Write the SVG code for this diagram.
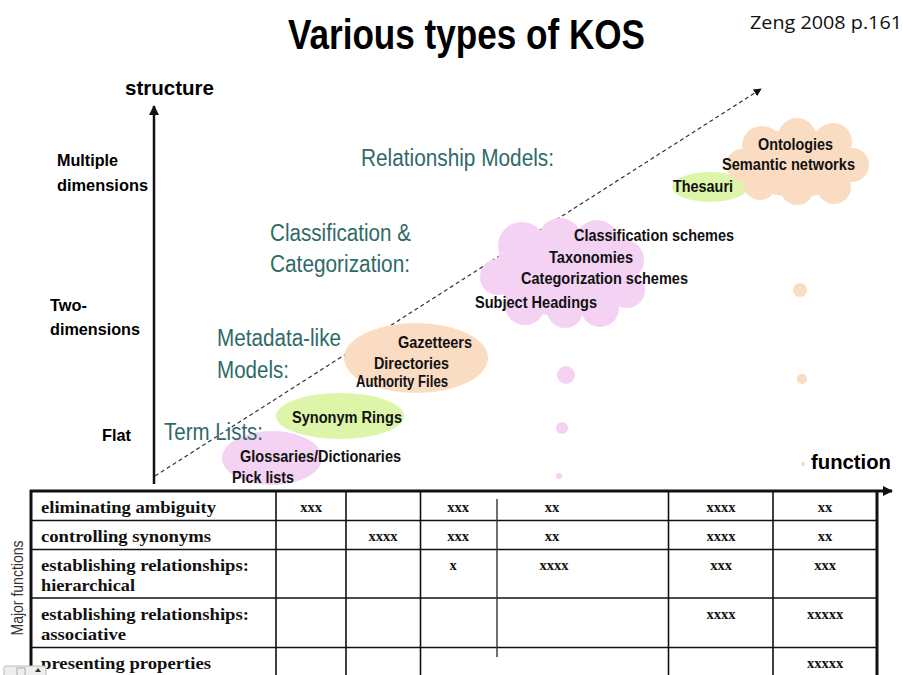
<svg xmlns="http://www.w3.org/2000/svg" width="903" height="675" viewBox="0 0 903 675">
<style>
.title{font-family:"Liberation Sans Narrow","Liberation Sans",sans-serif;font-weight:bold;fill:#000}
.ax{font-family:"Liberation Sans Narrow","Liberation Sans","DejaVu Sans",sans-serif;font-weight:bold;fill:#000}
.teal{font-family:"Liberation Sans Narrow","Liberation Sans",sans-serif;fill:#2f6a68;font-size:23px}
.lbl{font-family:"Liberation Sans Narrow","Liberation Sans",sans-serif;font-weight:bold;fill:#111;font-size:16px}
.tb{font-family:"Liberation Serif","Times New Roman",serif;font-weight:bold;fill:#111;font-size:16px}
.x{font-family:"Liberation Serif","Times New Roman",serif;font-weight:bold;fill:#111;font-size:14.5px;text-anchor:middle}
.pink{fill:#f4d2f4}
.orange{fill:#f9dcc2}
.green{fill:#dcf5a9}
.grid{stroke:#111;stroke-width:1.6;fill:none}
.thick{stroke:#111;stroke-width:3;fill:none}
</style>
<defs>
<marker id="ah" viewBox="0 0 10 10" refX="9" refY="5" markerWidth="8" markerHeight="8" markerUnits="userSpaceOnUse" orient="auto">
<path d="M0,0 L10,5 L0,10 z" fill="#111"/>
</marker>
<marker id="ahb" viewBox="0 0 10 10" refX="9" refY="5" markerWidth="10" markerHeight="10" markerUnits="userSpaceOnUse" orient="auto">
<path d="M0,0 L10,5 L0,10 z" fill="#111"/>
</marker>
</defs>
<rect width="903" height="675" fill="#fff"/>

<text class="title" x="288" y="49" font-size="42" textLength="357" lengthAdjust="spacingAndGlyphs">Various types of KOS</text>
<text x="750" y="29" font-family="'Open Sans','Liberation Sans',sans-serif" font-size="18" fill="#111" textLength="152" lengthAdjust="spacingAndGlyphs">Zeng 2008 p.161</text>

<g id="axes">
<text class="ax" x="125" y="95" font-size="21" textLength="89" lengthAdjust="spacingAndGlyphs">structure</text>
<line x1="154" y1="484" x2="154" y2="106" stroke="#111" stroke-width="2.5" marker-end="url(#ahb)"/>
<text class="ax" x="57" y="166" font-size="17" textLength="61" lengthAdjust="spacingAndGlyphs">Multiple</text>
<text class="ax" x="57" y="191" font-size="17" textLength="91" lengthAdjust="spacingAndGlyphs">dimensions</text>
<text class="ax" x="50" y="311" font-size="17" textLength="37" lengthAdjust="spacingAndGlyphs">Two-</text>
<text class="ax" x="50" y="335" font-size="17" textLength="90" lengthAdjust="spacingAndGlyphs">dimensions</text>
<text class="ax" x="102" y="441" font-size="17" textLength="29" lengthAdjust="spacingAndGlyphs">Flat</text>
<text class="ax" x="811" y="469" font-size="21" textLength="80" lengthAdjust="spacingAndGlyphs">function</text>
</g>

<g id="connectors">
<line x1="155" y1="476" x2="761" y2="89" stroke="#333" stroke-width="1.2" stroke-dasharray="4,3" marker-end="url(#ah)"/>
</g>

<g id="categories">
<text class="teal" x="361" y="166" textLength="193" lengthAdjust="spacingAndGlyphs">Relationship Models:</text>
<text class="teal" x="270" y="241" textLength="141" lengthAdjust="spacingAndGlyphs">Classification &amp;</text>
<text class="teal" x="270" y="272" textLength="140" lengthAdjust="spacingAndGlyphs">Categorization:</text>
<text class="teal" x="217" y="346" textLength="124" lengthAdjust="spacingAndGlyphs">Metadata-like</text>
<text class="teal" x="217" y="378" textLength="72" lengthAdjust="spacingAndGlyphs">Models:</text>
</g>

<g id="glossaries">
<ellipse class="pink" cx="272" cy="458" rx="50" ry="27"/>
<text class="lbl" x="240" y="462" textLength="161" lengthAdjust="spacingAndGlyphs">Glossaries/Dictionaries</text>
<text class="lbl" x="232" y="483" textLength="62" lengthAdjust="spacingAndGlyphs">Pick lists</text>
</g>
<text class="teal" x="164" y="440" textLength="99" lengthAdjust="spacingAndGlyphs">Term Lists:</text>

<g id="synonym-rings">
<ellipse class="green" cx="340" cy="416" rx="64" ry="23"/>
<text class="lbl" x="292" y="423" textLength="110" lengthAdjust="spacingAndGlyphs">Synonym Rings</text>
</g>

<g id="gazetteers">
<ellipse class="orange" cx="416" cy="358" rx="72" ry="35"/>
<text class="lbl" x="398" y="348" textLength="74" lengthAdjust="spacingAndGlyphs">Gazetteers</text>
<text class="lbl" x="374" y="369" textLength="75" lengthAdjust="spacingAndGlyphs">Directories</text>
<text class="lbl" x="356" y="387" font-size="13.5" textLength="92" lengthAdjust="spacingAndGlyphs">Authority Files</text>
</g>

<g id="classification-cloud">
<g class="pink">
<ellipse cx="562" cy="272" rx="68" ry="44"/>
<circle cx="522" cy="246" r="24"/>
<circle cx="560" cy="240" r="22"/>
<circle cx="597" cy="242" r="22"/>
<circle cx="624" cy="260" r="20"/>
<circle cx="627" cy="290" r="18"/>
<circle cx="600" cy="308" r="19"/>
<circle cx="565" cy="310" r="18"/>
<circle cx="525" cy="305" r="20"/>
<circle cx="498" cy="277" r="18"/>
</g>
<text class="lbl" x="574" y="241" textLength="160" lengthAdjust="spacingAndGlyphs">Classification schemes</text>
<text class="lbl" x="549" y="263" textLength="84" lengthAdjust="spacingAndGlyphs">Taxonomies</text>
<text class="lbl" x="521" y="284" textLength="167" lengthAdjust="spacingAndGlyphs">Categorization schemes</text>
<text class="lbl" x="475" y="308" textLength="122" lengthAdjust="spacingAndGlyphs">Subject Headings</text>
<circle class="pink" cx="566" cy="375" r="9"/>
<circle class="pink" cx="562" cy="428" r="6"/>
<circle class="pink" cx="559" cy="476" r="3"/>
</g>

<g id="thesauri">
<ellipse class="green" cx="710" cy="187" rx="38" ry="15"/>
</g>

<g id="ontologies-cloud">
<g class="orange">
<ellipse cx="797" cy="163" rx="60" ry="34"/>
<circle cx="762" cy="146" r="20"/>
<circle cx="797" cy="137" r="19"/>
<circle cx="833" cy="142" r="19"/>
<circle cx="852" cy="165" r="17"/>
<circle cx="834" cy="187" r="17"/>
<circle cx="797" cy="188" r="17"/>
<circle cx="760" cy="183" r="17"/>
<circle cx="742" cy="165" r="16"/>
</g>
<text class="lbl" x="758" y="150" textLength="75" lengthAdjust="spacingAndGlyphs">Ontologies</text>
<text class="lbl" x="722" y="170" textLength="133" lengthAdjust="spacingAndGlyphs">Semantic networks</text>
<circle class="orange" cx="800" cy="290" r="7"/>
<circle class="orange" cx="802" cy="379" r="5"/>
<circle class="orange" cx="803" cy="464" r="2"/>
</g>
<text class="lbl" x="673" y="192" textLength="60" lengthAdjust="spacingAndGlyphs">Thesauri</text>

<g id="table">
<line x1="30" y1="491" x2="892" y2="491" stroke="#111" stroke-width="3" marker-end="url(#ahb)"/>
<line class="thick" x1="31" y1="490" x2="31" y2="675"/>
<line class="thick" x1="877" y1="490" x2="877" y2="675"/>
<line class="grid" x1="31" y1="520.5" x2="877" y2="520.5"/>
<line class="grid" x1="31" y1="549.5" x2="877" y2="549.5"/>
<line class="grid" x1="31" y1="598" x2="877" y2="598"/>
<line class="grid" x1="31" y1="647.5" x2="877" y2="647.5"/>
<line class="grid" x1="276" y1="491" x2="276" y2="675"/>
<line class="grid" x1="346" y1="491" x2="346" y2="675"/>
<line class="grid" x1="420.5" y1="491" x2="420.5" y2="675"/>
<line x1="497" y1="499" x2="497" y2="657" stroke="#333" stroke-width="1.4"/>
<line class="grid" x1="668.5" y1="491" x2="668.5" y2="675"/>
<line class="grid" x1="773" y1="491" x2="773" y2="675"/>

<text class="tb" x="41" y="513" textLength="175" lengthAdjust="spacingAndGlyphs">eliminating ambiguity</text>
<text class="tb" x="41" y="542" textLength="170" lengthAdjust="spacingAndGlyphs">controlling synonyms</text>
<text class="tb" x="41" y="571" textLength="208" lengthAdjust="spacingAndGlyphs">establishing relationships:</text>
<text class="tb" x="41" y="591" textLength="94" lengthAdjust="spacingAndGlyphs">hierarchical</text>
<text class="tb" x="41" y="620" textLength="208" lengthAdjust="spacingAndGlyphs">establishing relationships:</text>
<text class="tb" x="41" y="640" textLength="85" lengthAdjust="spacingAndGlyphs">associative</text>
<text class="tb" x="41" y="669" textLength="170" lengthAdjust="spacingAndGlyphs">presenting properties</text>

<text class="x" x="311" y="512">xxx</text>
<text class="x" x="458" y="512">xxx</text>
<text class="x" x="552" y="512">xx</text>
<text class="x" x="721" y="512">xxxx</text>
<text class="x" x="825" y="512">xx</text>

<text class="x" x="383" y="541">xxxx</text>
<text class="x" x="458" y="541">xxx</text>
<text class="x" x="552" y="541">xx</text>
<text class="x" x="721" y="541">xxxx</text>
<text class="x" x="825" y="541">xx</text>

<text class="x" x="453" y="570">x</text>
<text class="x" x="554" y="570">xxxx</text>
<text class="x" x="721" y="570">xxx</text>
<text class="x" x="825" y="570">xxx</text>

<text class="x" x="721" y="619">xxxx</text>
<text class="x" x="825" y="619">xxxxx</text>

<text class="x" x="825" y="668">xxxxx</text>

<text transform="translate(23,588) rotate(-90)" text-anchor="middle" font-family="'Liberation Sans Narrow','Liberation Sans',sans-serif" font-size="16" fill="#333" textLength="95" lengthAdjust="spacingAndGlyphs">Major functions</text>
</g>

<g id="nav-widget">
<rect x="4" y="666" width="42" height="12" rx="2" fill="#eeeeee" stroke="#bbbbbb" stroke-width="1"/>
<rect x="17" y="668" width="8" height="8" fill="none" stroke="#aaaaaa" stroke-width="1"/>
<path d="M38,668 l-3,4 h6 z" fill="#333"/>
</g>
</svg>
